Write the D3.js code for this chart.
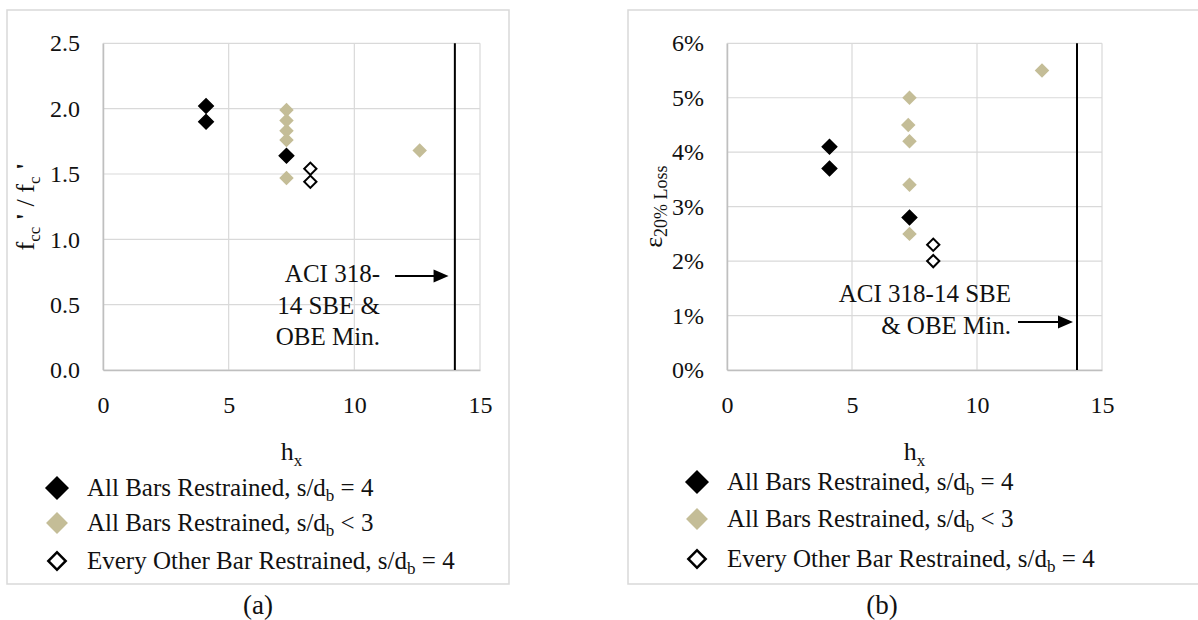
<!DOCTYPE html>
<html>
<head>
<meta charset="utf-8">
<script src="https://cdn.jsdelivr.net/npm/d3@7"></script>
<style>
  body { margin: 0; background: #fff; }
  svg { display: block; }
  svg text { font-family: "Liberation Serif", "DejaVu Serif", serif; }
</style>
</head>
<body>
<script>
// chart values
const xTicks = [0, 5, 10, 15];
const yTicksA = [0, 0.5, 1.0, 1.5, 2.0, 2.5];
const yTicksB = [0, 0.01, 0.02, 0.03, 0.04, 0.05, 0.06];
const aciMinHx = 14;

// (a) confined strength ratio
const hxAll4A = [4.1, 4.1, 7.3];
const fccAll4 = [2.02, 1.90, 1.64];
const hxAll3A = [7.3, 7.3, 7.3, 7.3, 7.3, 12.6];
const fccAll3 = [1.99, 1.91, 1.83, 1.76, 1.47, 1.68];
const hxOther4A = [8.25, 8.25];
const fccOther4 = [1.54, 1.44];

// (b) strain at 20% loss
const hxAll4B = [4.1, 4.1, 7.3];
const epsAll4 = [0.041, 0.037, 0.028];
const hxAll3B = [7.3, 7.25, 7.3, 7.3, 7.3, 12.6];
const epsAll3 = [0.050, 0.045, 0.042, 0.034, 0.025, 0.055];
const hxOther4B = [8.25, 8.25];
const epsOther4 = [0.023, 0.020];

const legendLabels = ['All Bars Restrained, s/d', 'All Bars Restrained, s/d', 'Every Other Bar Restrained, s/d'];
const legendTails = [' = 4', ' < 3', ' = 4'];

const tan = '#c4bd97';
const styles = [
  { fill: '#000', stroke: '#000', sw: 1.5 },
  { fill: tan, stroke: 'none', sw: 0 },
  { fill: '#fff', stroke: '#000', sw: 2 },
];

const svg = d3.select('body').append('svg')
  .attr('width', 1198)
  .attr('height', 620);

const zip = (xs, ys) => xs.map((x, i) => ({ x, y: ys[i] }));

function diamond(area) {
  return d3.symbol().type(d3.symbolSquare).size(area)();
}

function drawPanel(p) {
  // outer chart border
  svg.append('rect')
    .attr('x', p.box[0]).attr('y', p.box[1])
    .attr('width', p.box[2]).attr('height', p.box[3])
    .attr('fill', 'none').attr('stroke', '#d9d9d9').attr('stroke-width', 1.5);

  const x = d3.scaleLinear().domain([0, 15]).range([p.left, p.right]);
  const y = d3.scaleLinear().domain(p.yDomain).range([370, 43.3]);
  const g = svg.append('g');

  // gridlines
  g.selectAll('.hgrid').data(p.yTicks).join('line')
    .attr('x1', p.left).attr('x2', p.right)
    .attr('y1', d => y(d)).attr('y2', d => y(d))
    .attr('stroke', '#d9d9d9').attr('stroke-width', 1.2);
  g.selectAll('.vgrid').data(xTicks).join('line')
    .attr('y1', y(p.yDomain[0])).attr('y2', y(p.yDomain[1]))
    .attr('x1', d => x(d)).attr('x2', d => x(d))
    .attr('stroke', '#d9d9d9').attr('stroke-width', 1.2);

  // axes
  const gx = g.append('g').attr('transform', `translate(0,${y(p.yDomain[0])})`)
    .call(d3.axisBottom(x).tickValues(xTicks).tickSize(0).tickPadding(26).tickFormat(d3.format('d')));
  const gy = g.append('g').attr('transform', `translate(${p.left},0)`)
    .call(d3.axisLeft(y).tickValues(p.yTicks).tickSize(0).tickPadding(23).tickFormat(p.yFormat));
  [gx, gy].forEach((a) => {
    a.attr('font-size', 24);
    a.select('.domain').attr('stroke', '#bfbfbf').attr('stroke-width', 1.5);
    a.selectAll('text').attr('fill', '#111');
  });

  // ACI minimum line
  g.append('line')
    .attr('x1', x(aciMinHx)).attr('x2', x(aciMinHx))
    .attr('y1', y(p.yDomain[0])).attr('y2', y(p.yDomain[1]))
    .attr('stroke', '#000').attr('stroke-width', 2);

  // annotation
  const ann = g.append('text').attr('font-size', 25).attr('text-anchor', 'end').attr('fill', '#111');
  p.annLines.forEach((t, i) => {
    ann.append('tspan').attr('x', p.annX).attr('y', p.annY + i * p.annStep).text(t);
  });
  const ay = y(p.arrowY);
  g.append('line')
    .attr('x1', x(p.arrowX[0])).attr('x2', x(p.arrowX[1]) - 12)
    .attr('y1', ay).attr('y2', ay)
    .attr('stroke', '#000').attr('stroke-width', 2);
  g.append('path')
    .attr('d', `M${x(p.arrowX[1])},${ay} l-15,-6.5 v13 z`)
    .attr('fill', '#000');

  // series markers
  p.series.forEach((s, i) => {
    g.selectAll(null).data(s).join('path')
      .attr('d', diamond(i === 2 ? 75 : 105))
      .attr('transform', d => `translate(${x(d.x)},${y(d.y)}) rotate(45)`)
      .attr('fill', styles[i].fill)
      .attr('stroke', styles[i].stroke)
      .attr('stroke-width', styles[i].sw);
  });

  // axis titles
  const xt = g.append('text').attr('x', (p.left + p.right) / 2).attr('y', 460)
    .attr('text-anchor', 'middle').attr('font-size', 26).attr('fill', '#111');
  xt.append('tspan').text('h');
  xt.append('tspan').attr('font-size', 17).attr('dy', 6).text('x');

  const yt = g.append('text')
    .attr('transform', `translate(${p.yTitleX},${(43.3 + 370) / 2}) rotate(-90)`)
    .attr('text-anchor', 'middle').attr('font-size', 26).attr('fill', '#111');
  p.yTitle(yt);

  // legend
  p.legendY.forEach((ly, i) => {
    g.append('path')
      .attr('d', diamond(i === 2 ? 150 : 240))
      .attr('transform', `translate(${p.legendX},${ly}) rotate(45)`)
      .attr('fill', styles[i].fill)
      .attr('stroke', styles[i].stroke)
      .attr('stroke-width', i === 2 ? 2.5 : styles[i].sw);
    const t = g.append('text').attr('x', p.legendX + 30).attr('y', ly + 8)
      .attr('font-size', 25).attr('fill', '#111');
    t.append('tspan').text(legendLabels[i]);
    t.append('tspan').attr('font-size', 17).attr('dy', 5).text('b');
    t.append('tspan').attr('dy', -5).text(legendTails[i]);
  });

  // caption
  svg.append('text').attr('x', p.captionX).attr('y', 614)
    .attr('text-anchor', 'middle').attr('font-size', 27).attr('fill', '#111')
    .text(p.caption);
}

drawPanel({
  box: [7, 10, 502, 574],
  left: 103,
  right: 480,
  yDomain: [0, 2.5],
  yTicks: yTicksA,
  yFormat: d3.format('.1f'),
  series: [zip(hxAll4A, fccAll4), zip(hxAll3A, fccAll3), zip(hxOther4A, fccOther4)],
  annLines: ['ACI 318-', '14 SBE &', 'OBE Min.'],
  annX: 380,
  annY: 282,
  annStep: 31.5,
  arrowX: [11.62, 13.75],
  arrowY: 0.72,
  yTitleX: 34,
  yTitle: (t) => {
    t.append('tspan').text('f');
    t.append('tspan').attr('font-size', 17).attr('dy', 6).text('cc');
    t.append('tspan').attr('dy', -6).attr('font-weight', 'bold').text(" '");
    t.append('tspan').text(' / f');
    t.append('tspan').attr('font-size', 17).attr('dy', 6).text('c');
    t.append('tspan').attr('dy', -6).attr('font-weight', 'bold').text(" '");
  },
  legendX: 57,
  legendY: [488, 523, 561],
  caption: '(a)',
  captionX: 258,
});

drawPanel({
  box: [628, 10, 620, 574],
  left: 727,
  right: 1102,
  yDomain: [0, 0.06],
  yTicks: yTicksB,
  yFormat: d3.format('.0%'),
  series: [zip(hxAll4B, epsAll4), zip(hxAll3B, epsAll3), zip(hxOther4B, epsOther4)],
  annLines: ['ACI 318-14 SBE', '& OBE Min.'],
  annX: 1011,
  annY: 302,
  annStep: 31.5,
  arrowX: [11.64, 13.84],
  arrowY: 0.0088,
  yTitleX: 662,
  yTitle: (t) => {
    t.append('tspan').text('\u03b5');
    t.append('tspan').attr('font-size', 18).attr('dy', 5).text('20% Loss');
  },
  legendX: 697,
  legendY: [482, 519, 559],
  caption: '(b)',
  captionX: 882,
});
</script>
</body>
</html>
